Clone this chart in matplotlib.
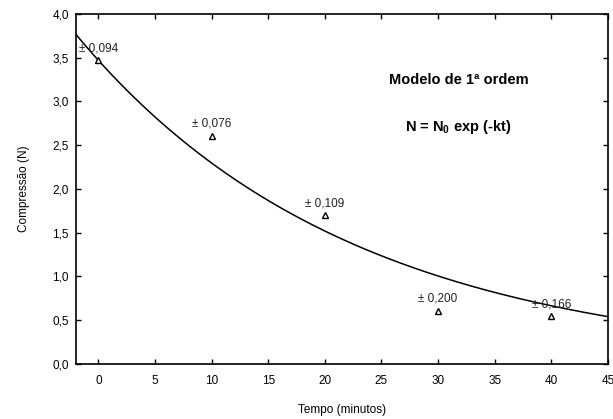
import numpy as np
import matplotlib
matplotlib.use("Agg")
import matplotlib.pyplot as plt
from matplotlib.ticker import FuncFormatter

plt.rcParams['font.family'] = ['Liberation Sans', 'DejaVu Sans']
plt.rcParams['mathtext.fontset'] = 'custom'
plt.rcParams['mathtext.rm'] = 'Liberation Sans'
plt.rcParams['mathtext.bf'] = 'Liberation Sans:bold'

# Data
tempo = [0, 10, 20, 30, 40]
compressao = [3.47, 2.61, 1.70, 0.61, 0.55]
erros = ["± 0,094", "± 0,076", "± 0,109", "± 0,200", "± 0,166"]

# First-order model parameters (fitted curve)
N0 = 3.471
k = 0.0413

x_ticks = [0, 5, 10, 15, 20, 25, 30, 35, 40, 45]
y_ticks = [0.0, 0.5, 1.0, 1.5, 2.0, 2.5, 3.0, 3.5, 4.0]

fig = plt.figure(figsize=(6.13, 4.19), dpi=100)
ax = fig.add_axes([0.1235, 0.1313, 0.8683, 0.8353])

xm = np.linspace(-2, 45, 300)
ax.plot(xm, N0 * np.exp(-k * xm), color='black', lw=1.1)

ax.plot(tempo, compressao, linestyle='none', marker='^', markersize=5,
        markerfacecolor='white', markeredgecolor='black', markeredgewidth=1.0)

for xv, yv, e in zip(tempo, compressao, erros):
    ax.annotate(e, (xv, yv), xytext=(0, 8.5), textcoords='offset points',
                ha='center', va='center', fontsize=8.5, color='#222222')

ax.text(31.8, 3.25, "Modelo de 1ª ordem", ha='center', va='center',
        fontsize=10.5, fontweight='bold')
ax.text(31.8, 2.71, r"N = N$_{\mathbf{0}}$ exp (-kt)", ha='center', va='center',
        fontsize=10.5, fontweight='bold')

ax.set_xlim(-2, 45)
ax.set_ylim(0, 4.0)
ax.set_xticks(x_ticks)
ax.set_yticks(y_ticks)
ax.yaxis.set_major_formatter(FuncFormatter(lambda v, p: f"{v:.1f}".replace('.', ',')))
ax.tick_params(direction='in', length=3.5, width=1.0, top=True, right=True,
               labelsize=8.5, colors='black')
ax.tick_params(axis='x', pad=8)
ax.tick_params(axis='y', pad=5)
for s in ax.spines.values():
    s.set_linewidth(1.2)

ax.set_xlabel("Tempo (minutos)", fontsize=8.5, labelpad=12)
ax.set_ylabel("Compressão (N)", fontsize=8.5, labelpad=16)

fig.savefig("out.png", dpi=100)
